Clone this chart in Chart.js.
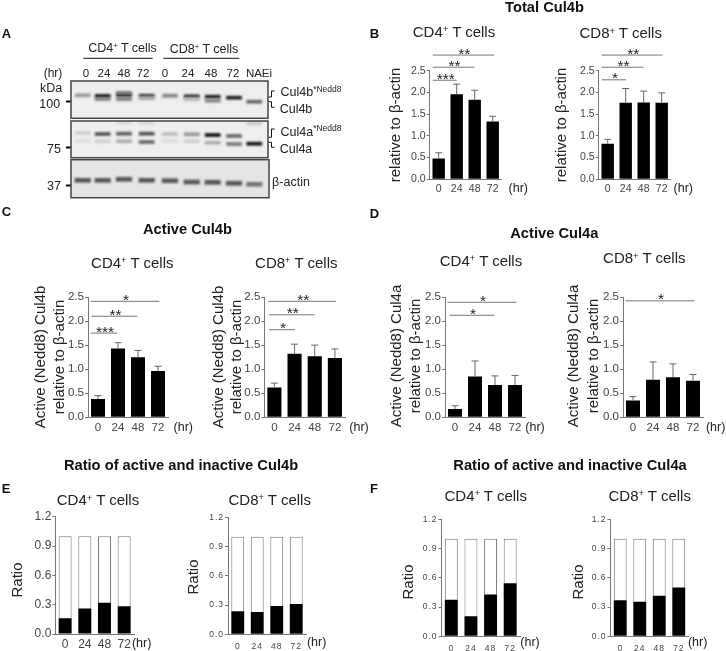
<!DOCTYPE html>
<html><head><meta charset="utf-8">
<script src="https://cdn.jsdelivr.net/npm/chart.js@4"></script>
<style>
html,body{margin:0;padding:0;background:#fff;width:726px;height:651px;overflow:hidden}
#page{position:relative;width:726px;height:651px;font-family:"Liberation Sans",Arial,sans-serif;color:#222}
canvas{position:absolute;left:0;top:0;pointer-events:none}
.t{position:absolute;white-space:nowrap;line-height:1}
.t sup{font-size:.62em;line-height:0;vertical-align:baseline;position:relative;top:-.5em}
svg{position:absolute;left:0;top:0}
</style></head><body><div id="page">
<svg width="726" height="651" fill="none" stroke="#111">
<path d="M83.3 58.3H152.7M163.3 58.3H239.3" stroke-width="1"/>
<path d="M268.5 97H271.5V91H274.5M268.5 101.7H271.5V107.3H274.5M268.5 137.3H271.5V129H274.5M268.5 142.3H271.5V147.3H274.5" stroke-width="1"/>
</svg>
</div>
<script>
// ---- data ----
const hours = ['0','24','48','72'];
// B: total Cul4b
const totalCd4 = [0.48,1.96,1.83,1.33], totalCd4Err = [0.13,0.23,0.22,0.12];
const totalCd8 = [0.82,1.76,1.77,1.76], totalCd8Err = [0.10,0.33,0.26,0.23];
// C: active Cul4b
const activeBCd4 = [0.38,1.43,1.25,0.96], activeBCd4Err = [0.07,0.12,0.14,0.10];
const activeBCd8 = [0.62,1.32,1.27,1.23], activeBCd8Err = [0.09,0.20,0.23,0.19];
// D: active Cul4a
const activeACd4 = [0.17,0.85,0.67,0.67], activeACd4Err = [0.07,0.32,0.19,0.20];
const activeACd8 = [0.35,0.78,0.83,0.76], activeACd8Err = [0.08,0.37,0.28,0.13];
// E/F: ratio of active and inactive
const ratioBCd4Active = [0.16,0.26,0.32,0.285], ratioBCd4Inactive = [0.84,0.74,0.68,0.715];
const ratioBCd8Active = [0.236,0.23,0.29,0.31], ratioBCd8Inactive = [0.764,0.77,0.71,0.69];
const ratioACd4Active = [0.376,0.205,0.43,0.544], ratioACd4Inactive = [0.624,0.795,0.57,0.456];
const ratioACd8Active = [0.369,0.355,0.417,0.5], ratioACd8Inactive = [0.631,0.645,0.583,0.5];
// significance brackets: category range, axis value, stars
const sigTotalCd4 = [[-0.33,3.07,2.86,'**'],[-0.33,1.98,2.58,'**'],[-0.33,1.0,2.28,'***']];
const sigTotalCd8 = [[-0.33,3.05,2.86,'**'],[-0.33,1.98,2.58,'**'],[-0.33,1.02,2.29,'*']];
const sigActiveBCd4 = [[-0.37,3.07,2.41,'*'],[-0.32,1.97,2.10,'**'],[-0.37,0.97,1.75,'***']];
const sigActiveBCd8 = [[-0.30,3.06,2.41,'**'],[-0.26,1.98,2.13,'**'],[-0.26,1.02,1.82,'*']];
const sigActiveACd4 = [[-0.37,3.08,2.39,'*'],[-0.28,1.97,2.12,'*']];
const sigActiveACd8 = [[-0.37,3.07,2.42,'*']];
// A: western blot, lanes and bands (position down the membrane, grey level of each lane)
const laneNames = ['0','24','48','72','0','24','48','72','NAEi'];
const lanePos = [11.7,31.7,53,75.7,99,120.7,141.7,163,183.3];
const cul4bMainPos = [14.3,15,14,14.7,14.7,15.3,15.7,16.7,20.7];
const cul4bMainGrey = [150,15,30,60,130,45,30,30,100];
const cul4bLowerPos = [null,18,18,17.3,null,18.3,19.7,null,null];
const cul4bLowerGrey = [null,130,120,170,null,185,130,null,null];
const cul4bUpperPos = [null,null,11.7,null,null,null,null,null,null];
const cul4bUpperGrey = [null,null,120,null,null,null,null,null,null];
const cul4aFaintPos = [null,null,1.7,2,null,null,null,null,2.3];
const cul4aFaintGrey = [null,null,215,215,null,null,null,null,200];
const cul4aNeddPos = [12,13,12.7,12.7,13,13.3,14,15,null];
const cul4aNeddGrey = [205,80,95,80,185,150,15,100,null];
const cul4aPos = [19.7,20.3,20.3,21,19.7,20.3,21.7,23,22.7];
const cul4aGrey = [220,205,170,100,220,205,170,120,15];
const actinPos = [20.6,20.6,19.6,20.6,21,22.3,22.6,23.6,24.6];
const actinGrey = [85,85,85,85,85,85,85,85,115];

// ---- helpers ----
const page = document.getElementById('page');
const W = 726, H = 651, AXIS = '#777', TICK = '#444';
const AXIS_W = 40, AXIS_H = 30;
const FONT = '"Liberation Sans", Arial, sans-serif';
Chart.defaults.font.family = FONT;

function label(html, cx, cy, size, opt) {
  opt = opt || {};
  const d = document.createElement('div');
  d.className = 't';
  d.innerHTML = html;
  d.style.left = cx + 'px';
  d.style.top = cy + 'px';
  d.style.fontSize = size + 'px';
  if (opt.bold) { d.style.fontWeight = 'bold'; d.style.color = '#111'; }
  d.style.transform = 'translate(-50%,-50%)' + (opt.rot ? ' rotate(-90deg)' : '');
  page.appendChild(d);
}
function newCanvas() {
  const c = document.createElement('canvas');
  c.width = W; c.height = H;
  page.appendChild(c);
  return c.getContext('2d');
}
const spacingPlugin = {
  id: 'tickSpacing',
  beforeDraw(chart, a, o) { chart.ctx.letterSpacing = (o.px || 0) + 'px'; }
};
const errPlugin = {
  id: 'errBars',
  afterDatasetsDraw(chart, a, o) {
    const ctx = chart.ctx, x = chart.scales.x, y = chart.scales.y;
    ctx.save();
    ctx.strokeStyle = '#666'; ctx.lineWidth = 1;
    (o.errors || []).forEach((e, i) => {
      const v = chart.data.datasets[0].data[i];
      const px = x.getPixelForValue(i), t = y.getPixelForValue(v + e), b = y.getPixelForValue(v);
      ctx.beginPath();
      ctx.moveTo(px, b); ctx.lineTo(px, t);
      ctx.moveTo(px - 3.5, t); ctx.lineTo(px + 3.5, t);
      ctx.stroke();
    });
    (o.sigs || []).forEach(s => {
      const x0 = x.getPixelForValue(s[0]), x1 = x.getPixelForValue(s[1]), py = y.getPixelForValue(s[2]);
      ctx.strokeStyle = '#777';
      ctx.beginPath(); ctx.moveTo(x0, py); ctx.lineTo(x1, py); ctx.stroke();
      ctx.fillStyle = '#222';
      ctx.font = '15.5px ' + FONT;
      ctx.textAlign = 'center'; ctx.textBaseline = 'alphabetic';
      ctx.fillText(s[3], (x0 + x1) / 2 + 1, py + 3.5);
    });
    ctx.restore();
  }
};
function plotChart(c) {
  const stacked = !!c.inactive;
  const datasets = [{ data: c.values, backgroundColor: '#000', barPercentage: c.barPct, categoryPercentage: 1 }];
  if (stacked) datasets.push({ data: c.inactive, backgroundColor: '#fff', borderColor: '#777', borderWidth: 1, barPercentage: c.barPct, categoryPercentage: 1 });
  new Chart(newCanvas(), {
    type: 'bar',
    data: { labels: hours, datasets },
    options: {
      responsive: false, animation: false, events: [],
      layout: { padding: { left: c.box[0] - AXIS_W, right: W - c.box[1], top: c.box[2], bottom: H - c.box[3] - AXIS_H } },
      plugins: { legend: { display: false }, tooltip: { enabled: false },
        errBars: { errors: c.errors, sigs: c.sigs }, tickSpacing: { px: c.spacing || 0 } },
      scales: {
        x: { stacked, grid: { display: false, drawTicks: false },
          border: { color: AXIS, width: 1 },
          ticks: { color: TICK, font: { size: c.xSize || c.size }, padding: c.xPad, autoSkip: false, maxRotation: 0 },
          afterFit(s) { s.height = AXIS_H; } },
        y: { stacked, min: 0, max: c.max,
          grid: { drawOnChartArea: false, drawTicks: true, tickLength: 3, tickColor: AXIS },
          border: { color: AXIS, width: 1 },
          ticks: { stepSize: c.step, color: TICK, font: { size: c.size }, padding: 1, callback: v => v.toFixed(1) },
          afterFit(s) { s.width = AXIS_W; } }
      }
    },
    plugins: [spacingPlugin, errPlugin]
  });
}
const blotPlugin = {
  id: 'membrane',
  beforeDraw(chart, a, o) {
    const { left, top, width, height } = chart.chartArea;
    chart.ctx.fillStyle = o.bg;
    chart.ctx.fillRect(left, top, width, height);
  },
  beforeDatasetsDraw(chart) { chart.ctx.filter = 'blur(1px)'; },
  afterDatasetsDraw(chart) { chart.ctx.filter = 'none'; },
  afterDraw(chart) {
    const { left, top, width, height } = chart.chartArea;
    chart.ctx.strokeStyle = '#444'; chart.ctx.lineWidth = 1.5;
    chart.ctx.strokeRect(left, top, width, height);
  }
};
function blotRow(pos, grey, h, thick) {
  return {
    data: lanePos.map((x, i) => ({ x, y: pos[i] === null ? null : [pos[i] - h / 2, pos[i] + h / 2] })),
    backgroundColor: grey.map(g => g === null ? 'rgba(0,0,0,0)' : `rgb(${g},${g},${g})`),
    barThickness: thick, grouped: false
  };
}
function blotChart(box, rows, marker, bg) {
  new Chart(newCanvas(), {
    type: 'bar',
    data: { datasets: rows },
    options: {
      responsive: false, animation: false, events: [],
      layout: { padding: { left: box[0] - AXIS_W, right: W - box[1], top: box[2], bottom: H - box[3] } },
      plugins: { legend: { display: false }, tooltip: { enabled: false }, membrane: { bg } },
      scales: {
        x: { type: 'linear', offset: false, min: 0, max: box[1] - box[0], display: false },
        y: { min: 0, max: box[3] - box[2], reverse: true,
          border: { display: false },
          grid: { drawOnChartArea: false, tickLength: 5, tickWidth: 2, tickColor: '#000' },
          ticks: { display: false },
          afterBuildTicks(s) { s.ticks = [{ value: marker }]; },
          afterFit(s) { s.width = AXIS_W; } }
      }
    },
    plugins: [blotPlugin]
  });
}

// ---- panel A ----
blotChart([71,268,81,118.3], [
  blotRow(cul4bUpperPos, cul4bUpperGrey, 2.5, 15),
  blotRow(cul4bLowerPos, cul4bLowerGrey, 3, 15),
  blotRow(cul4bMainPos, cul4bMainGrey, 3, 15)
], 21, '#eeeeee');
blotChart([71,268,121,157.7], [
  blotRow(cul4aFaintPos, cul4aFaintGrey, 3, 15),
  blotRow(cul4aNeddPos, cul4aNeddGrey, 3, 15),
  blotRow(cul4aPos, cul4aGrey, 3, 15)
], 26, '#efefef');
blotChart([71,269,159.7,197.7], [
  blotRow(actinPos, actinGrey, 4, 15.5)
], 25.3, '#e5e5e5');

// ---- panels B-F ----
plotChart({ box:[429.7,501.7,70.7,179.3], values:totalCd4, errors:totalCd4Err, sigs:sigTotalCd4, max:2.5, step:0.5, size:10.5, xPad:4, barPct:0.69 });
plotChart({ box:[598.7,670.7,70.7,179.3], values:totalCd8, errors:totalCd8Err, sigs:sigTotalCd8, max:2.5, step:0.5, size:10.5, xPad:4, barPct:0.69 });
plotChart({ box:[88,168,297,417.3], values:activeBCd4, errors:activeBCd4Err, sigs:sigActiveBCd4, max:2.5, step:0.5, size:11.5, xPad:4, barPct:0.7 });
plotChart({ box:[264.3,345,297,417.3], values:activeBCd8, errors:activeBCd8Err, sigs:sigActiveBCd8, max:2.5, step:0.5, size:11.5, xPad:4, barPct:0.7 });
plotChart({ box:[445,525,297,417.3], values:activeACd4, errors:activeACd4Err, sigs:sigActiveACd4, max:2.5, step:0.5, size:11.5, xPad:4, barPct:0.7 });
plotChart({ box:[623,703,297,417.3], values:activeACd8, errors:activeACd8Err, sigs:sigActiveACd8, max:2.5, step:0.5, size:11.5, xPad:4, barPct:0.7 });
plotChart({ box:[55.3,134,516.7,634], values:ratioBCd4Active, inactive:ratioBCd4Inactive, max:1.2, step:0.3, size:12, xPad:3, barPct:0.66 });
plotChart({ box:[228,306,517.3,634.3], values:ratioBCd8Active, inactive:ratioBCd8Inactive, max:1.2, step:0.3, size:8.5, xSize:8.5, spacing:1, xPad:7, barPct:0.66 });
plotChart({ box:[441.5,520,519.3,636.3], values:ratioACd4Active, inactive:ratioACd4Inactive, max:1.2, step:0.3, size:8.5, xSize:8.5, spacing:1, xPad:7, barPct:0.66 });
plotChart({ box:[610.5,688.5,519.3,636.3], values:ratioACd8Active, inactive:ratioACd8Inactive, max:1.2, step:0.3, size:8.5, xSize:8.5, spacing:1, xPad:7, barPct:0.66 });

// ---- text ----
const CD4 = 'CD4<sup>+</sup> T cells', CD8 = 'CD8<sup>+</sup> T cells', REL = 'relative to β-actin';
[['A',6.5,32.5],['B',374.5,33],['C',6.5,211],['D',374.5,213],['E',6,487.5],['F',374,488]]
  .forEach(l => label(l[0], l[1], l[2], 13, { bold:true }));
[['Total Cul4b',544.5,7],['Active Cul4b',187.5,229],['Active Cul4a',554.3,232.7],
 ['Ratio of active and inactive Cul4b',181,465],['Ratio of active and inactive Cul4a',570,465]]
  .forEach(l => label(l[0], l[1], l[2], 14.7, { bold:true }));
[[CD4,454,31],[CD8,620.7,32.3],[CD4,132.3,261.7],[CD8,296.3,261.7],[CD4,481,260],[CD8,644.3,257.3],
 [CD4,98,499.3],[CD8,269.7,499],[CD4,485.7,495],[CD8,649.7,495]]
  .forEach(l => label(l[0], l[1], l[2], 15));
[[518.3,187.7],[683.3,187.7],[183.3,427.3],[359,427.3],[535,427.3],[715.7,427.3],[141.7,642.7],[316.7,641.7],[530,641.7],[697.7,641.7]]
  .forEach(p => label('(hr)', p[0], p[1], 12.5));
[[REL,394.3,125],[REL,560,125],
 ['Active (Nedd8) Cul4b',39.3,356.5],[REL,58.3,356.5],['Active (Nedd8) Cul4b',216.7,356.5],[REL,235,356.5],
 ['Active (Nedd8) Cul4a',395,356],[REL,414.3,356],['Active (Nedd8) Cul4a',571.7,356],[REL,591.7,356],
 ['Ratio',15.7,580.3],['Ratio',191.7,577],['Ratio',406.7,582.3],['Ratio',576.7,582.3]]
  .forEach(l => label(l[0], l[1], l[2], 15, { rot:true }));
// blot labels
label(CD4, 122.5, 47.7, 12.5); label(CD8, 204, 49.3, 12.5);
label('(hr)', 53, 73, 12); label('kDa', 51, 88.3, 12.5);
[['100',49.7,104],['75',54,149],['37',54,185.7]].forEach(l => label(l[0], l[1], l[2], 12.5));
const laneLabelX = [86,104,124,143,165,188,211,233,259];
laneNames.forEach((n, i) => label(n, laneLabelX[i], 73.5, 11.5));
label('Cul4b<sup style="font-size:.68em">*Nedd8</sup>', 311, 92, 12.5);
label('Cul4b', 296, 109.3, 12.5);
label('Cul4a<sup style="font-size:.68em">*Nedd8</sup>', 311, 131.7, 12.5);
label('Cul4a', 296, 149.3, 12.5);
label('β-actin', 291, 182.3, 12.5);
</script></body></html>
